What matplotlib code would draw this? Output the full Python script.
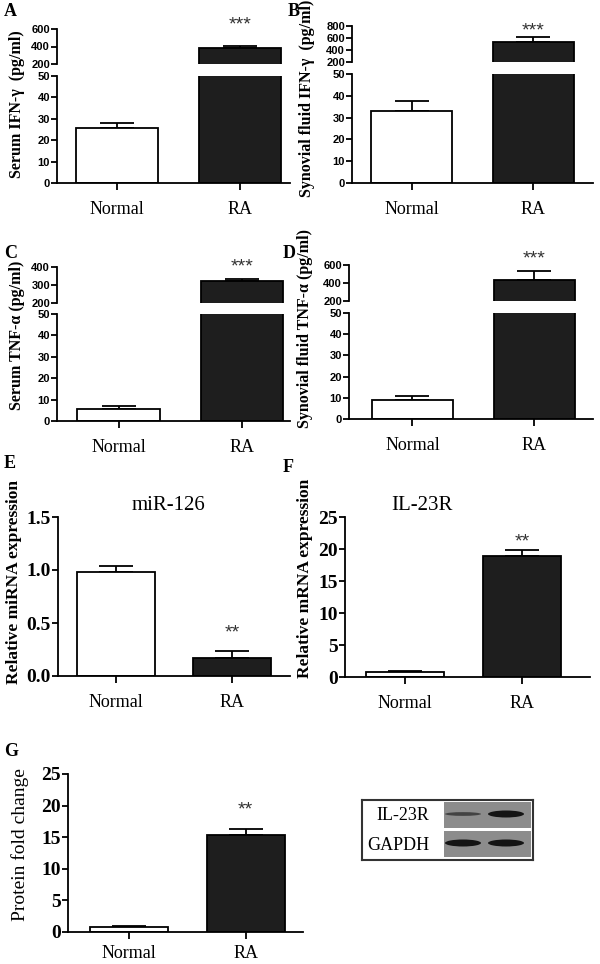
import numpy as np
import matplotlib.pyplot as plt
from matplotlib.patches import Rectangle, Ellipse

plt.rcParams['font.family'] = 'Liberation Serif'

groups = ['Normal', 'RA']

# A: serum IFN-γ (pg/ml)
ifng_serum = [25.5, 385]
ifng_serum_err = [2.5, 23]
# B: synovial fluid IFN-γ (pg/ml)
ifng_syn = [33, 535]
ifng_syn_err = [4.5, 80]
# C: serum TNF-α (pg/ml)
tnfa_serum = [5.5, 320]
tnfa_serum_err = [1.5, 12]
# D: synovial fluid TNF-α (pg/ml)
tnfa_syn = [9, 430]
tnfa_syn_err = [2, 106]
# E: miR-126 relative expression
mir126 = [0.98, 0.17]
mir126_err = [0.06, 0.07]
# F: IL-23R mRNA
il23r_mrna = [0.8, 18.9]
il23r_mrna_err = [0.15, 0.9]
# G: IL-23R protein fold change
il23r_protein = [0.8, 15.4]
il23r_protein_err = [0.2, 0.9]

# western blot band strengths, lanes Normal / RA
blot_rows = ['IL-23R', 'GAPDH']
blot_bands = [[0.35, 1.0], [1.0, 1.0]]

W, H = 600, 964
fig = plt.figure(figsize=(W / 100, H / 100), dpi=100)

LW = 1.3
FILL = ['white', '#1e1e1e']
SANS_TICKS = dict(fontfamily='Liberation Sans', fontweight='bold', fontsize=8)
SERIF_TICKS = dict(fontfamily='Liberation Serif', fontweight='bold', fontsize=14)


def box(x0, y0, x1, y1):
    return [x0 / W, 1 - y1 / H, (x1 - x0) / W, (y1 - y0) / H]


def draw_bars(ax, vals, errs, width):
    x = np.arange(len(vals))
    ax.bar(x, vals, width, color=FILL, edgecolor='black', linewidth=LW, zorder=2)
    ax.errorbar(x, vals, yerr=[np.zeros(len(errs)), errs], fmt='none',
                ecolor='black', elinewidth=LW, capsize=12, capthick=LW, zorder=1)


def style_lower(ax, xlim, xpad=8):
    ax.spines['top'].set_visible(False)
    ax.spines['right'].set_visible(False)
    ax.spines['left'].set_linewidth(LW)
    ax.spines['bottom'].set_linewidth(LW)
    ax.set_xlim(*xlim)
    ax.set_xticks(range(len(groups)), labels=groups, fontsize=13)
    ax.tick_params(axis='x', length=5, width=LW, pad=xpad)
    ax.tick_params(axis='y', length=4, width=LW, pad=1)


def stars(ax, y, s):
    ax.text(1, y, s, ha='center', va='center', fontsize=14, color='#333333',
            family='Liberation Sans', clip_on=False)


def broken_panel(lo, hi, vals, errs, hi_lim, hi_ticks, xlim, star_y):
    ax_lo = fig.add_axes(box(*lo))
    ax_hi = fig.add_axes(box(*hi))
    for ax in (ax_lo, ax_hi):
        draw_bars(ax, vals, errs, 0.67)
    ax_lo.set_ylim(0, 50)
    lo_ticks = list(range(0, 51, 10))
    ax_lo.set_yticks(lo_ticks, labels=[str(v) for v in lo_ticks], **SANS_TICKS)
    style_lower(ax_lo, xlim)
    ax_hi.set_ylim(*hi_lim)
    ax_hi.set_yticks(hi_ticks, labels=[str(v) for v in hi_ticks], **SANS_TICKS)
    ax_hi.set_xlim(*xlim)
    for s in ['top', 'right', 'bottom']:
        ax_hi.spines[s].set_visible(False)
    ax_hi.spines['left'].set_linewidth(LW)
    ax_hi.tick_params(axis='x', bottom=False, labelbottom=False)
    ax_hi.tick_params(axis='y', length=4, width=LW, pad=1)
    stars(ax_hi, star_y, '***')


def simple_panel(rect, vals, errs, ylim, yticks, ylabels, xlim, star_y, xpad=8):
    ax = fig.add_axes(box(*rect))
    draw_bars(ax, vals, errs, 0.67)
    ax.set_ylim(*ylim)
    ax.set_yticks(yticks, labels=ylabels, **SERIF_TICKS)
    style_lower(ax, xlim, xpad)
    stars(ax, star_y, '**')
    return ax


# A-D: broken axes
broken_panel((57, 76, 290, 183), (57, 29, 290, 64), ifng_serum, ifng_serum_err,
             (200, 600), [200, 400, 600], (-0.49, 1.41), 645)
broken_panel((352, 74, 593, 183), (352, 26, 593, 62), ifng_syn, ifng_syn_err,
             (200, 800), [200, 400, 600, 800], (-0.49, 1.49), 717)
broken_panel((57, 314, 290, 421), (57, 267, 290, 303), tnfa_serum, tnfa_serum_err,
             (200, 400), [200, 300, 400], (-0.5, 1.39), 400)
broken_panel((349, 313, 593, 419), (349, 265, 593, 301), tnfa_syn, tnfa_syn_err,
             (200, 600), [200, 400, 600], (-0.52, 1.48), 667)

# E-G
simple_panel((58, 517, 290, 676), mir126, mir126_err, (0, 1.5), [0, 0.5, 1.0, 1.5],
             ['0.0', '0.5', '1.0', '1.5'], (-0.5, 1.5), 0.405)
simple_panel((345, 517, 590, 677), il23r_mrna, il23r_mrna_err, (0, 25), list(range(0, 26, 5)),
             [str(v) for v in range(0, 26, 5)], (-0.51, 1.58), 21.1)
simple_panel((68, 774, 303, 932), il23r_protein, il23r_protein_err, (0, 25), list(range(0, 26, 5)),
             [str(v) for v in range(0, 26, 5)], (-0.52, 1.49), 19.3, xpad=4)

# y labels
ylabels = [
    (17, 104, 'Serum IFN-γ  (pg/ml)', 'bold', 11.5),
    (307, 98, 'Synovial fluid IFN-γ  (pg/ml)', 'bold', 11.5),
    (17, 335, 'Serum TNF-α (pg/ml)', 'bold', 11.5),
    (305, 328, 'Synovial fluid TNF-α (pg/ml)', 'bold', 11.5),
    (14, 582, 'Relative miRNA expression', 'bold', 12.5),
    (305, 578, 'Relative mRNA expression', 'bold', 12.5),
    (20, 845, 'Protein fold change', 'normal', 14),
]
for x, y, s, w, fs in ylabels:
    fig.text(x / W, 1 - y / H, s, rotation=90, ha='center', va='center',
             fontweight=w, fontsize=fs)

# panel letters
letters = [('A', 4, 12), ('B', 288, 12), ('C', 4, 253), ('D', 283, 253),
           ('E', 4, 463), ('F', 283, 467), ('G', 4, 751)]
for s, x, y in letters:
    fig.text(x / W, 1 - y / H, s, ha='left', va='center', fontweight='bold', fontsize=13)

fig.text(168 / W, 1 - 505 / H, 'miR-126', ha='center', va='center', fontsize=15)
fig.text(422 / W, 1 - 505 / H, 'IL-23R', ha='center', va='center', fontsize=15)

# western blot inset
axb = fig.add_axes(box(362, 800, 533, 860))
axb.set_xlim(0, 171)
axb.set_ylim(60, 0)
axb.set_xticks([])
axb.set_yticks([])
for s in axb.spines.values():
    s.set_linewidth(1.5)
    s.set_color('#333333')
row_top = [2, 31]
lane_x = [101, 144]
label_x = [41, 36]
for r, name in enumerate(blot_rows):
    axb.add_patch(Rectangle((82, row_top[r]), 87, 26, color='#8c8c8c', lw=0))
    axb.text(label_x[r], row_top[r] + 14, name, ha='center', va='center', fontsize=13)
    for lane, strength in enumerate(blot_bands[r]):
        axb.add_patch(Ellipse((lane_x[lane], row_top[r] + 12), 36, 2 + 5 * strength,
                              color='#141414', alpha=0.4 + 0.6 * strength, lw=0))

fig.savefig('out.png', dpi=100)
